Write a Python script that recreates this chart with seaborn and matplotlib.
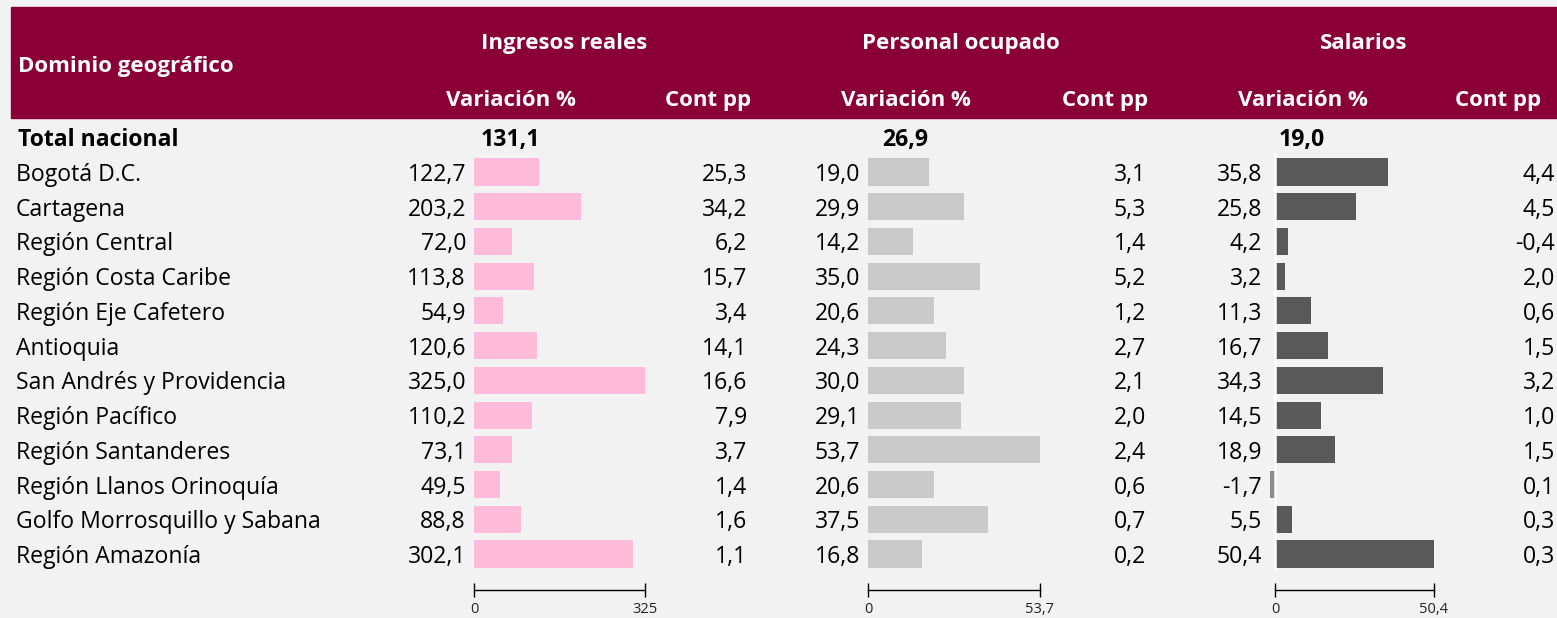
import matplotlib
matplotlib.use("Agg")
import matplotlib.pyplot as plt
import matplotlib.transforms as mtransforms
from matplotlib import font_manager
from matplotlib.patches import Rectangle
import seaborn as sns

# data
regions = ["Bogotá D.C.", "Cartagena", "Región Central", "Región Costa Caribe",
           "Región Eje Cafetero", "Antioquia", "San Andrés y Providencia",
           "Región Pacífico", "Región Santanderes", "Región Llanos Orinoquía",
           "Golfo Morrosquillo y Sabana", "Región Amazonía"]
ingresos_var = [122.7, 203.2, 72.0, 113.8, 54.9, 120.6, 325.0, 110.2, 73.1, 49.5, 88.8, 302.1]
ingresos_cont = [25.3, 34.2, 6.2, 15.7, 3.4, 14.1, 16.6, 7.9, 3.7, 1.4, 1.6, 1.1]
personal_var = [19.0, 29.9, 14.2, 35.0, 20.6, 24.3, 30.0, 29.1, 53.7, 20.6, 37.5, 16.8]
personal_cont = [3.1, 5.3, 1.4, 5.2, 1.2, 2.7, 2.1, 2.0, 2.4, 0.6, 0.7, 0.2]
salarios_var = [35.8, 25.8, 4.2, 3.2, 11.3, 16.7, 34.3, 14.5, 18.9, -1.7, 5.5, 50.4]
salarios_cont = [4.4, 4.5, -0.4, 2.0, 0.6, 1.5, 3.2, 1.0, 1.5, 0.1, 0.3, 0.3]
totals = [131.1, 26.9, 19.0]
groups = ["Ingresos reales", "Personal ocupado", "Salarios"]

W, H = 1557, 618
BG = "#f2f2f2"
HEADER = "#8a0036"
FS = 16.6     # body text
FSB = 16.0    # header text

sns.set_theme(style="white")
names = {f.name for f in font_manager.fontManager.ttflist}
main_font = "Liberation Sans Narrow" if "Liberation Sans Narrow" in names else "Open Sans"
plt.rcParams["font.family"] = [main_font, "DejaVu Sans"]
plt.rcParams["text.color"] = "black"


def fx(px):
    return px / W


def fy(py):
    return 1 - py / H


def fmt(v):
    return f"{v:.1f}".replace(".", ",")


fig = plt.figure(figsize=(W / 100, H / 100), dpi=100, facecolor=BG)

# header band
fig.patches.append(Rectangle((fx(11), fy(118)), fx(W) - fx(11), fy(7) - fy(118),
                             transform=fig.transFigure, color=HEADER, zorder=0))
fig.text(fx(18), fy(64), "Dominio geográfico", color="white", fontsize=FSB,
         fontweight="bold", va="center_baseline", ha="left")

# columns: values, conts, zero px, max px, max value, left pad, colors, header centers
cols = [
    dict(var=ingresos_var, cont=ingresos_cont, z=474, m=645, vmax=325.0, lo=0,
         color="#ffbbd7", neg="#ffbbd7", title_x=564, var_x=511, cont_x=708,
         var_r=466, cont_r=747, tot_x=510, tick_lbl="325", zline=False),
    dict(var=personal_var, cont=personal_cont, z=868, m=1040, vmax=53.7, lo=0,
         color="#c9c9c9", neg="#c9c9c9", title_x=961, var_x=906, cont_x=1105,
         var_r=860, cont_r=1146, tot_x=905, tick_lbl="53,7", zline=False),
    dict(var=salarios_var, cont=salarios_cont, z=1275, m=1434, vmax=50.4, lo=-3.0,
         color="#595959", neg="#8c8c8c", title_x=1364, var_x=1303, cont_x=1498,
         var_r=1262, cont_r=1555, tot_x=1302, tick_lbl="50,4", zline=True),
]

row0, step = 172, 34.73
top_px = row0 - 1.5 * step
bot_px = row0 + 11.5 * step

for g, c, tot in zip(groups, cols, totals):
    scale = (c["m"] - c["z"]) / c["vmax"]
    left_px = c["z"] + c["lo"] * scale
    ax = fig.add_axes([fx(left_px), fy(bot_px), fx(c["m"]) - fx(left_px), fy(top_px) - fy(bot_px)])
    ax.set_facecolor("none")
    palette = [c["neg"] if v < 0 else c["color"] for v in c["var"]]
    sns.barplot(x=c["var"], y=regions, hue=regions, palette=palette, legend=False,
                orient="h", width=0.78, saturation=1, linewidth=0, ax=ax)
    ax.set_xlim(c["lo"], c["vmax"])
    ax.set_ylim(11.5, -1.5)
    if c["zline"]:
        ax.plot([0, 0], [-0.55, 11.45], color="white", lw=1.8, zorder=5)

    # scale bar below the bars
    for s in ["top", "right", "left"]:
        ax.spines[s].set_visible(False)
    ax.spines["bottom"].set_position(("outward", 13.4))
    ax.spines["bottom"].set_bounds(0, c["vmax"])
    ax.spines["bottom"].set_color("black")
    ax.spines["bottom"].set_linewidth(1.0)
    ax.set_xticks([0, c["vmax"]])
    ax.set_xticklabels(["0", c["tick_lbl"]], fontsize=10.5)
    ax.tick_params(axis="x", direction="inout", length=9.5, width=1.0, pad=4,
                   bottom=True, colors="black", labelcolor="#222222")
    ax.set_yticks([])
    ax.set_ylabel("")
    ax.set_xlabel("")

    # header texts
    fig.text(fx(c["title_x"]), fy(41), g, color="white", fontsize=FSB,
             fontweight="bold", ha="center", va="center_baseline")
    fig.text(fx(c["var_x"]), fy(98), "Variación %", color="white", fontsize=FSB,
             fontweight="bold", ha="center", va="center_baseline")
    fig.text(fx(c["cont_x"]), fy(98), "Cont pp", color="white", fontsize=FSB,
             fontweight="bold", ha="center", va="center_baseline")

    # row values
    tr = mtransforms.blended_transform_factory(fig.transFigure, ax.transData)
    fig.text(fx(c["tot_x"]), -1, fmt(tot), transform=tr, fontsize=FS,
             fontweight="bold", ha="center", va="center_baseline")
    for i, (v, ct) in enumerate(zip(c["var"], c["cont"])):
        fig.text(fx(c["var_r"]), i, fmt(v), transform=tr, fontsize=FS,
                 ha="right", va="center_baseline")
        fig.text(fx(c["cont_r"]), i, fmt(ct), transform=tr, fontsize=FS,
                 ha="right", va="center_baseline")
    if g == groups[0]:
        fig.text(fx(18), -1, "Total nacional", transform=tr, fontsize=FS,
                 fontweight="bold", ha="left", va="center_baseline")
        for i, r in enumerate(regions):
            fig.text(fx(16), i, r, transform=tr, fontsize=FS, ha="left",
                     va="center_baseline")

fig.savefig("out.png", dpi=100, facecolor=BG)
